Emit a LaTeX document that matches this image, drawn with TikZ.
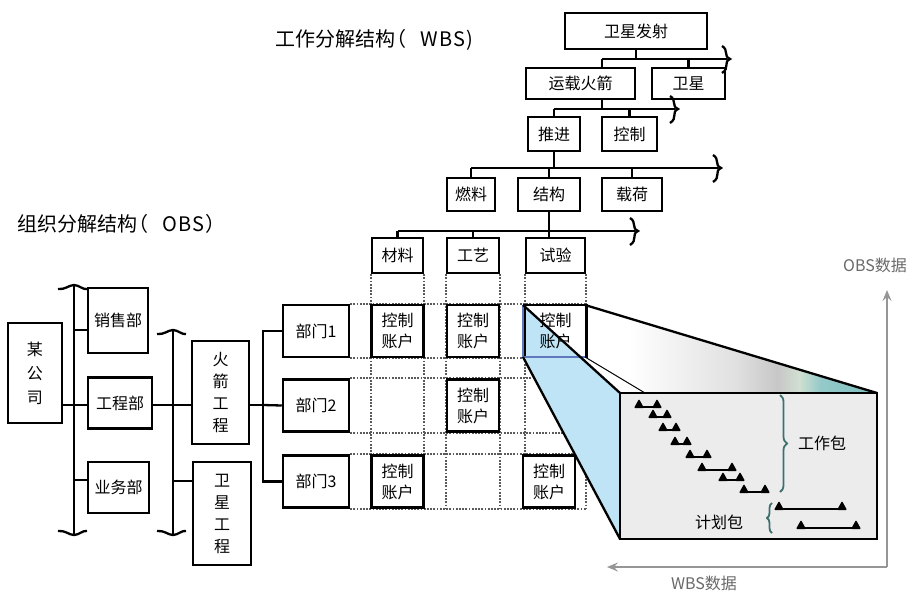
\documentclass[tikz,border=0pt]{standalone}
\usepackage{fontspec}
\setmainfont{Noto Sans CJK SC}
\usetikzlibrary{positioning,arrows.meta,decorations.pathreplacing}
\definecolor{wedgeblue}{RGB}{190,228,246}
\definecolor{blueedge}{RGB}{95,120,190}
\definecolor{facegray}{RGB}{236,236,236}
\definecolor{bracegreen}{RGB}{62,112,110}
\definecolor{axisgray}{RGB}{150,150,150}
\definecolor{labelgray}{RGB}{105,105,105}
\definecolor{dotgray}{RGB}{90,90,90}
\pgfdeclarehorizontalshading{topface}{100bp}{color(0bp)=(white); color(25bp)=(white); color(40bp)=(white); color(55bp)=(black!12); color(61bp)=(black!22); color(64bp)=(green!30!black!18); color(67bp)=(teal!42); color(75bp)=(teal!50); color(100bp)=(teal!50)}

\begin{document}
\begin{tikzpicture}[x=1pt, y=-1pt,
    unit/.style={draw, line width=2.5pt, fill=white, align=center, inner sep=1pt, font=\fontsize{16}{21}\selectfont},
    acct/.style={unit, minimum width=52pt, minimum height=52pt},
    conn/.style={line width=2.3pt},
    matline/.style={draw=dotgray, line width=2.4pt, dash pattern=on 1.8pt off 1.4pt},
    dataaxis/.style={draw=axisgray, line width=1.4pt, -{Stealth[length=11pt, width=9pt, inset=4pt]}},
    datalabel/.style={text=labelgray, font=\fontsize{16}{18}\selectfont},
    heading/.style={font=\fontsize{20}{22}\selectfont, anchor=west},
    pics/barbreak/.style={code={\draw[line width=2.3pt] (-5,-13) .. controls (2,-9) and (-4,-3) .. (3,0) .. controls (-4,3) and (3,9) .. (-5,14);}},
    pics/busbreak/.style={code={\draw[line width=2.3pt] (-16,4) .. controls (-9,5) and (-5,0) .. (0,0) .. controls (5,0) and (9,5) .. (13,4);}}
]
    \useasboundingbox[fill=white] (0,0) rectangle (912,594);

    % Titles
    \node[heading] (wbstitle) at (272,40) {工作分解结构\hspace{-9pt}（\hspace{14pt}W\hspace{1pt}B\hspace{1pt}S\hspace{1pt})};
    \node[heading] (obstitle) at (14,224) {组织分解结构\hspace{-9pt}（\hspace{14pt}O\hspace{1pt}B\hspace{1pt}S\hspace{1pt}）};

    % WBS tree
    \node[unit, minimum width=142pt, minimum height=36pt] (launch) at (636,31) {卫星发射};
    \node[unit, minimum width=109pt, minimum height=31pt] (lvehicle) at (580.5,83.5) {运载火箭};
    \node[unit, minimum width=73pt, minimum height=31pt] (satellite) at (688.5,83.5) {卫星};
    \node[unit, minimum width=52pt, minimum height=34pt] (propul) at (554,134) {推进};
    \node[unit, minimum width=55pt, minimum height=34pt] (control) at (629.5,134) {控制};
    \node[unit, minimum width=48pt, minimum height=33pt] (fuel) at (471,194.5) {燃料};
    \node[unit, minimum width=62pt, minimum height=33pt] (structure) at (549,194.5) {结构};
    \node[unit, minimum width=60pt, minimum height=33pt] (payload) at (632,194.5) {载荷};
    \node[unit, minimum width=51pt, minimum height=35pt] (material) at (397.5,255.5) {材料};
    \node[unit, minimum width=52pt, minimum height=35pt] (process) at (473,255.5) {工艺};
    \node[unit, minimum width=59pt, minimum height=35pt] (testing) at (555.5,255.5) {试验};

    \coordinate (bar1) at (602,59);
    \coordinate (bar1end) at (727,59);
    \draw[conn] (launch.south) -- (launch.south |- bar1);
    \draw[conn] (bar1) -- (bar1end);
    \draw[conn] (bar1) -- (bar1 |- lvehicle.north);
    \draw[conn] (satellite.north) -- (satellite.north |- bar1);
    \pic at (bar1end) {barbreak};

    \coordinate (bar2) at (554,109);
    \coordinate (bar2end) at (675,109);
    \draw[conn] (bar1 |- lvehicle.south) -- (bar1 |- bar2);
    \draw[conn] (bar2) -- (bar2end);
    \foreach \n in {propul, control}
        \draw[conn] (\n.north) -- (\n.north |- bar2);
    \pic at (bar2end) {barbreak};

    \coordinate (bar3) at (471,168);
    \coordinate (bar3end) at (718,168);
    \draw[conn] (propul.south) -- (propul.south |- bar3);
    \draw[conn] (bar3) -- (bar3end);
    \foreach \n in {fuel, structure, payload}
        \draw[conn] (\n.north) -- (\n.north |- bar3);
    \pic at (bar3end) {barbreak};

    \coordinate (bar4) at (397.5,231);
    \coordinate (bar4end) at (635,231);
    \draw[conn] (structure.south) -- (structure.south |- testing.north);
    \draw[conn] (bar4) -- (bar4end);
    \foreach \n in {material, process}
        \draw[conn] (\n.north) -- (\n.north |- bar4);
    \pic at (bar4end) {barbreak};

    % OBS tree
    \node[unit, minimum width=54pt, minimum height=100pt, font=\fontsize{16}{24}\selectfont] (company) at (35,373) {某\\公\\司};
    \node[unit, minimum width=60pt, minimum height=65pt] (sales) at (118,320.5) {销售部};
    \node[unit, minimum width=64pt, minimum height=51pt] (engdept) at (120,403) {工程部};
    \node[unit, minimum width=61pt, minimum height=51pt] (bizdept) at (118.5,487.5) {业务部};
    \node[unit, minimum width=57pt, minimum height=103pt, font=\fontsize{16}{22}\selectfont] (rocketeng) at (220.5,392.5) {火\\箭\\工\\程};
    \node[unit, minimum width=58pt, minimum height=103pt, font=\fontsize{16}{22}\selectfont] (sateng) at (222,513.5) {卫\\星\\工\\程};
    \node[unit, minimum width=66pt, minimum height=52pt] (dept1) at (316,331) {部门1};
    \node[unit, minimum width=66pt, minimum height=52pt] (dept2) at (316,405.5) {部门2};
    \node[unit, minimum width=66pt, minimum height=52pt] (dept3) at (316,481.5) {部门3};

    \coordinate (bus1top) at (74,285);
    \coordinate (bus1bot) at (74,535);
    \draw[conn] (bus1top) -- (bus1bot);
    \pic at (bus1top) {busbreak};
    \pic[yscale=-1] at (bus1bot) {busbreak};
    \coordinate (bus1s) at (74,330);
    \coordinate (bus1m) at (74,405);
    \coordinate (bus1b) at (74,480);
    \draw[conn] (bus1s) -- (bus1s -| sales.west);
    \draw[conn] (bus1m -| company.east) -- (bus1m -| engdept.west);
    \draw[conn] (bus1b) -- (bus1b -| bizdept.west);

    \coordinate (bus2top) at (173,330);
    \coordinate (bus2bot) at (173,535);
    \draw[conn] (bus2top) -- (bus2bot);
    \pic at (bus2top) {busbreak};
    \pic[yscale=-1] at (bus2bot) {busbreak};
    \coordinate (bus2b) at (173,481);
    \draw[conn] (bus1m -| engdept.east) -- (bus1m -| rocketeng.west);
    \draw[conn] (bus2b) -- (bus2b -| sateng.west);

    \coordinate (bus3) at (263,405);
    \draw[conn] (bus1m -| rocketeng.east) -- (bus3);
    \draw[conn] (dept1.west) -| (bus3) |- (dept3.west);
    \draw[conn] (bus3) -- (dept2.west);

    % Matrix lines
    \foreach \n in {material, process, testing} {
        \draw[matline] (\n.south west) -- (\n.south west |- dept3.south);
        \draw[matline] (\n.south east) -- (\n.south east |- dept3.south);
    }
    \foreach \n in {dept1, dept2, dept3} {
        \draw[matline] (\n.north east) -- (\n.north east -| testing.east);
        \draw[matline] (\n.south east) -- (\n.south east -| testing.east);
    }

    % Control accounts
    \node[acct] (acctA1) at (material |- dept1) {控制\\账户};
    \node[acct] (acctB1) at (process |- dept1) {控制\\账户};
    \node[acct] (acctB2) at (process |- dept2) {控制\\账户};
    \node[acct] (acctA3) at (material |- dept3) {控制\\账户};
    \node[acct] (acctC3) at (structure |- dept3) {控制\\账户};

    % Wedge to the work package view
    \coordinate (nearTL) at (523,305);
    \coordinate (nearTR) at (585,305);
    \coordinate (nearBL) at (523,357);
    \coordinate (nearBR) at (585,357);
    \coordinate (farTL) at (620,393);
    \coordinate (farTR) at (877,393);
    \coordinate (farBL) at (620,539);
    \coordinate (strip) at (645,393);
    \fill[wedgeblue] (nearTL) -- (farTL) -- (farBL) -- (nearBL) -- cycle;
    \shade[shading=topface] (nearTL) -- (nearTR) -- (farTR) -- (farTL) -- cycle;
    \node[acct, fill=none, minimum width=62pt] (acctC1) at (testing |- dept1) {控制\\账户};
    \draw[blueedge, line width=1.8pt] (nearTL) -- (nearBL) -- (nearBR);
    \draw[conn] (nearTL) -- (farTL);
    \draw[conn] (nearTR) -- (farTR);
    \draw[conn] (nearBL) -- (farBL);
    \draw[line width=1pt] (nearBR) -- (strip);

    % Work package view
    \node[draw, line width=2.5pt, fill=facegray, minimum width=257pt, minimum height=146pt, inner sep=0pt] (face) at (748.5,466) {};
    \foreach \xa/\xb/\yy in {639/657/408, 653/667/418, 663/676/431, 675/687/445, 690/707/458,
                             702/732/471, 723/740/481, 744/765/493, 779/842/510, 801/856/529} {
        \draw[line width=1.8pt] (\xa,\yy-1) -- (\xb,\yy-1);
        \fill[rounded corners=1pt] (\xa-5,\yy) -- (\xa,\yy-9) -- (\xa+5,\yy) -- cycle;
        \fill[rounded corners=1pt] (\xb-5,\yy) -- (\xb,\yy-9) -- (\xb+5,\yy) -- cycle;
    }
    \draw[bracegreen, line width=1.8pt, decorate, decoration={brace, amplitude=7pt}] (780,395) -- (780,492);
    \draw[bracegreen, line width=1.8pt, decorate, decoration={brace, amplitude=5pt}] (772,533) -- (772,503);
    \node[font=\fontsize{16}{18}\selectfont] (wplabel) at (822,443) {工作包};
    \node[font=\fontsize{16}{18}\selectfont] (pplabel) at (719,522) {计划包};

    % Data axes
    \coordinate (axo) at (887,567);
    \coordinate (obstip) at (887,290);
    \coordinate (wbstip) at (607,567);
    \draw[dataaxis] (axo) -- (obstip);
    \draw[dataaxis] (axo) -- (wbstip);
    \node[datalabel] (obsdata) at (875,265) {OBS数据};
    \node[datalabel] (wbsdata) at (704,583) {WBS数据};
\end{tikzpicture}
\end{document}
